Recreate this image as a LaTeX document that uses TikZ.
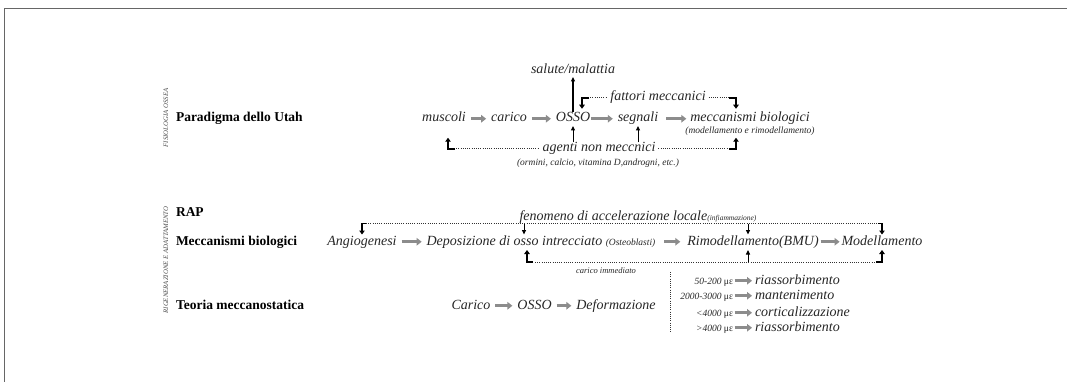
\documentclass[tikz,border=0pt]{standalone}
\usepackage{fontspec}
\setmainfont{Liberation Serif}
\usetikzlibrary{arrows.meta}
\begin{document}
\begin{tikzpicture}[x=1pt,y=-1pt,
  every node/.style={inner sep=0pt, outer sep=0pt, text=black!85},
  lbl/.style={font=\fontsize{13.5}{14}\selectfont\bfseries, anchor=base west, text=black},
  side/.style={font=\fontsize{6.8}{7}\selectfont\itshape, rotate=90, text=black!70},
  it/.style={font=\fontsize{14}{15}\selectfont\itshape, anchor=base, text height=9.5pt, text depth=3pt},
  sm/.style={font=\fontsize{9.5}{10}\selectfont\itshape, anchor=base},
  num/.style={font=\fontsize{9.5}{10}\selectfont\itshape, anchor=base east, text height=9.5pt, text depth=3pt},
  res/.style={font=\fontsize{14}{15}\selectfont\itshape, anchor=base west, text height=9.5pt, text depth=3pt},
  garrow/.style={draw=black!45, line width=2.6pt, -{Triangle[length=5pt,width=7.5pt]}, shorten <=5pt, shorten >=5pt},
  barrow/.style={draw=black, line width=1.7pt, -{Triangle[length=4pt,width=5.5pt]}, line join=miter},
  tarrow/.style={draw=black, line width=1pt, -{Triangle[length=4.5pt,width=4pt]}},
  dots/.style={draw=black!80, line width=0.7pt, dash pattern=on 0.7pt off 1.5pt},
]
\useasboundingbox (0,0) rectangle (1067,382);
% frame
\draw[black!60, line width=1.4pt] (4.5,382) -- (4.5,8.5) -- (1067,8.5);

% side labels
\node[side] (fis) at (166,118) {FISIOLOGIA OSSEA};
\node[side] (rig) at (166,260) {RIGENERAZIONE E ADATTAMENTO};

% row labels
\node[lbl] (pu) at (176,122) {Paradigma dello Utah};
\node[lbl] (rap) at (176,216) {RAP};
\node[lbl] (mb) at (176,245) {Meccanismi biologici};
\node[lbl] (tm) at (176,309) {Teoria meccanostatica};

% ---- Paradigma dello Utah
\node[it] (mus) at (444,122) {muscoli};
\node[it] (car) at (509,122) {carico};
\node[it] (osso) at (573,122) {OSSO};
\node[it] (seg) at (638,122) {segnali};
\node[it] (mec) at (750,122) {meccanismi biologici};
\node[sm] (mod) at (750,134) {(modellamento e rimodellamento)};
\node[it] (sal) at (573,74) {salute/malattia};
\node[it] (fat) at (658,101) {fattori meccanici};
\node[it] (age) at (599,152) {agenti non meccnici};
\node[sm] (orm) at (598,166) {(ormini, calcio, vitamina D,androgni, etc.)};

\draw[garrow] (mus.east) -- (car.west);
\draw[garrow] (car.east) -- (osso.west);
\draw[garrow, shorten <=1pt] (osso.east) -- (seg.west);
\draw[garrow, shorten <=8pt, shorten >=4pt] (seg.east) -- (mec.west);
\draw[tarrow, line width=1.2pt] (osso.north) -- (sal.south);
\draw[tarrow, shorten >=1pt] (osso.south |- age.north) -- (osso.south);
\draw[tarrow, shorten >=1pt] (seg.south |- age.north) -- (seg.south);

% fattori meccanici bracket
\coordinate (xfl) at (582,0);
\coordinate (xfr) at (736,0);
\coordinate (fL) at (xfl |- fat.west);
\coordinate (fR) at (xfr |- fat.west);
\draw[dots] ([xshift=6pt]fL) -- ([xshift=-3pt]fat.west);
\draw[dots] ([xshift=3pt]fat.east) -- ([xshift=-6pt]fR);
\draw[barrow] ([xshift=7pt]fL) -- (fL) -- ([yshift=-11pt]fL);
\draw[barrow] ([xshift=-7pt]fR) -- (fR) -- ([yshift=-11pt]fR);

% agenti non meccanici bracket
\coordinate (xal) at (448,0);
\coordinate (xar) at (736,0);
\coordinate (aL) at (xal |- age.west);
\coordinate (aR) at (xar |- age.west);
\draw[dots] ([xshift=6pt]aL) -- ([xshift=-3pt]age.west);
\draw[dots] ([xshift=3pt]age.east) -- ([xshift=-6pt]aR);
\draw[barrow] ([xshift=7pt]aL) -- (aL) -- ([yshift=11pt]aL);
\draw[barrow] ([xshift=-7pt]aR) -- (aR) -- ([yshift=11pt]aR);

% ---- Meccanismi biologici
\node[it] (ang) at (362,245) {Angiogenesi};
\node[it] (dep) at (541,245) {Deposizione di osso intrecciato {\fontsize{9.5}{10}\selectfont (Osteoblasti)}};
\node[it] (rim) at (753,245) {Rimodellamento(BMU)};
\node[it] (modl) at (882,245) {Modellamento};
\node[it, text height=8pt, text depth=2pt] (fen) at (638,220) {fenomeno di accelerazione locale{\fontsize{7.5}{8}\selectfont (infiammazione)}};
\node[sm, font=\fontsize{8.5}{9}\selectfont\itshape] (cim) at (606,273) {carico immediato};

\draw[garrow] (ang.east) -- (dep.west);
\draw[garrow, shorten <=9pt, shorten >=7pt] (dep.east) -- (rim.west);
\draw[garrow, shorten <=2pt, shorten >=2pt] (rim.east) -- (modl.west);

% upper bracket
\coordinate (yu) at (0,223.5);
\coordinate (uL) at (ang.north |- yu);
\coordinate (uR) at (modl.north |- yu);
\coordinate (uD) at (524,223.5);
\coordinate (uM) at (748,223.5);
\draw[dots] ([xshift=4pt]uL) -- ([xshift=-4pt]uR);
\draw[barrow, line width=1.2pt] ([xshift=4pt]uL) -- (uL) -- ([yshift=1pt]ang.north);
\draw[barrow, line width=1.2pt] ([xshift=-4pt]uR) -- (uR) -- ([yshift=1pt]modl.north);
\draw[tarrow] (uD) -- ([yshift=1pt]uD |- dep.north);
\draw[tarrow] (uM) -- ([yshift=1pt]uM |- rim.north);

% lower bracket
\coordinate (yl) at (0,262);
\coordinate (lL) at (527,262);
\coordinate (lM) at (748,262);
\coordinate (lR) at (modl.south |- yl);
\draw[dots] ([xshift=8pt]lL) -- ([xshift=-8pt]lR);
\draw[barrow, line width=1.2pt] ([xshift=6pt]lL) -- (lL) -- ([yshift=-2pt]lL |- dep.south);
\draw[barrow, line width=1.2pt] ([xshift=-6pt]lR) -- (lR) -- ([yshift=-2pt]modl.south);
\draw[tarrow] (lM) -- ([yshift=-2pt]lM |- rim.south);

% ---- Teoria meccanostatica
\node[it] (carc) at (471,309) {Carico};
\node[it] (osso2) at (534.5,309) {OSSO};
\node[it] (def) at (616,309) {Deformazione};
\draw[garrow] (carc.east) -- (osso2.west);
\draw[garrow] (osso2.east) -- (def.west);

\coordinate (vt) at (670,272);
\coordinate (vb) at (670,333);
\draw[dots] (vt) -- (vb);

\node[num] (n1) at (733,284) {50-200 {\upshape με}};
\node[num] (n2) at (733,299) {2000-3000 {\upshape με}};
\node[num] (n3) at (733,316) {<4000 {\upshape με}};
\node[num] (n4) at (733,331) {>4000 {\upshape με}};
\node[res] (r1) at (755,284) {riassorbimento};
\node[res] (r2) at (755,299) {mantenimento};
\node[res] (r3) at (755,316) {corticalizzazione};
\node[res] (r4) at (755,331) {riassorbimento};
\draw[garrow, shorten <=1.5pt, shorten >=3pt] (n1.east) -- (r1.west);
\draw[garrow, shorten <=1.5pt, shorten >=3pt] (n2.east) -- (r2.west);
\draw[garrow, shorten <=1.5pt, shorten >=3pt] (n3.east) -- (r3.west);
\draw[garrow, shorten <=1.5pt, shorten >=3pt] (n4.east) -- (r4.west);
\end{tikzpicture}
\end{document}
